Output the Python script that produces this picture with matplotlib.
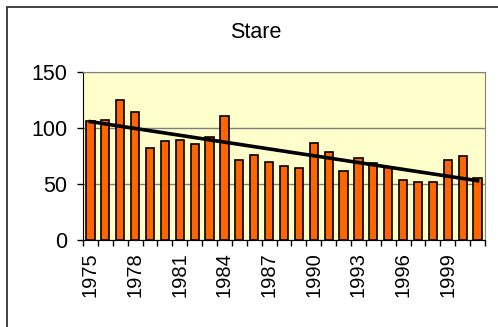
import matplotlib
matplotlib.use("Agg")
import matplotlib.pyplot as plt
import numpy as np

# data
years = list(range(1975, 2002))
values = [106, 107, 125, 114, 82, 88, 89, 86, 92, 111, 71, 76, 70,
          66, 64, 87, 79, 62, 73, 69, 65, 54, 52, 52, 71, 75, 55]
y_ticks = [0, 50, 100, 150]
label_every = 3

plt.rcParams['font.family'] = ['Liberation Sans', 'DejaVu Sans']

fig = plt.figure(figsize=(4.98, 3.27), dpi=100)
ax = fig.add_axes([83 / 498, 1 - 240 / 327, (485 - 83) / 498, (240 - 72) / 327])

x = np.arange(len(years))
ax.bar(x, values, width=0.55, color='#FF6600', edgecolor='black', linewidth=1.2, zorder=3)

# linear trend line
k, b = np.polyfit(x, values, 1)
ax.plot([x[0], x[-1]], [k * x[0] + b, k * x[-1] + b], color='black', linewidth=2.6, zorder=4)

ax.set_facecolor('#FFFFCC')
ax.set_xlim(-0.5, len(years) - 0.5)
ax.set_ylim(0, 150)
ax.set_yticks(y_ticks)
ax.yaxis.grid(True, color='#808080', linewidth=1, zorder=1)
ax.tick_params(axis='y', labelsize=15.5, length=4.5, width=1, color='black', pad=7)

# tick marks at category boundaries, labels every 3rd year
ax.set_xticks(np.arange(len(years) + 1) - 0.5, minor=False)
ax.set_xticklabels([])
ax.set_xticks(x[::label_every], minor=True)
ax.set_xticklabels([str(y) for y in years[::label_every]], minor=True, rotation=90, fontsize=14.5)
ax.tick_params(axis='x', which='major', length=4, width=1, color='black')
ax.tick_params(axis='x', which='minor', length=0, pad=9)

for side in ['top', 'right']:
    ax.spines[side].set_color('#808080')
ax.spines['left'].set_color('black')
ax.spines['bottom'].set_color('black')

fig.text(256 / 498, 1 - 33 / 327, 'Stare', ha='center', va='center', fontsize=15.5)

# outer chart border (right and bottom edges fall outside the image)
fig.patches.append(plt.Rectangle((7 / 498, -0.05), 1.0, 1 - 7 / 327 + 0.05, transform=fig.transFigure,
                                 fill=False, edgecolor='#333333', linewidth=1.3))

fig.savefig('out.png', dpi=100)
